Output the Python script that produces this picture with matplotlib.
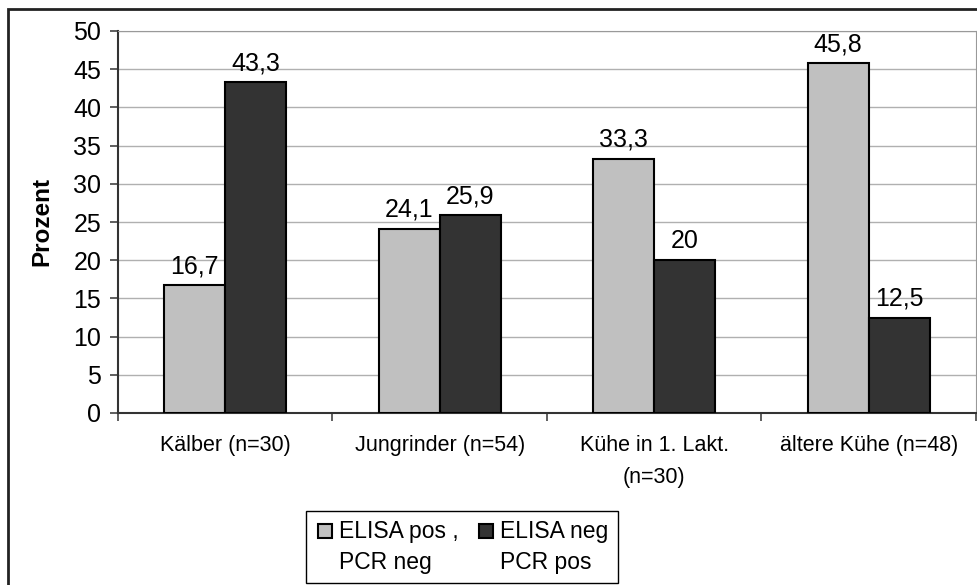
import numpy as np
import matplotlib
matplotlib.use("Agg")
from matplotlib import pyplot
from matplotlib.patches import Rectangle
from matplotlib.legend_handler import HandlerPatch

categories = ['Kälber (n=30)', 'Jungrinder (n=54)', 'Kühe in 1. Lakt.\n(n=30)', 'ältere Kühe (n=48)']
elisa_pos = [16.7, 24.1, 33.3, 45.8]
elisa_neg = [43.3, 25.9, 20.0, 12.5]
series_labels = ['ELISA pos ,\nPCR neg', 'ELISA neg\nPCR pos']
yticks = [0, 5, 10, 15, 20, 25, 30, 35, 40, 45, 50]


def fmt(v):
    s = ('%.1f' % v).rstrip('0').rstrip('.')
    return s.replace('.', ',')


# legend square sitting next to the first line of a two-line label
def top_square(legend, orig_handle, xdescent, ydescent, width, height, fontsize):
    return Rectangle((-xdescent + 2, -ydescent + 0.75 * fontsize), width, height)


pyplot.rcParams['font.family'] = 'Liberation Sans'

fig = pyplot.figure(figsize=(9.78, 5.85), dpi=100)
ax = fig.add_axes([118 / 978, 1 - 413 / 585, (976 - 118) / 978, (413 - 31) / 585])

x = np.arange(len(categories))
w = 0.285
b1 = ax.bar(x - w / 2, elisa_pos, w, color='#c0c0c0', edgecolor='black', linewidth=1.5, zorder=3)
b2 = ax.bar(x + w / 2, elisa_neg, w, color='#333333', edgecolor='black', linewidth=1.5, zorder=3)

for bars, vals in ((b1, elisa_pos), (b2, elisa_neg)):
    for r, v in zip(bars, vals):
        ax.annotate(fmt(v), (r.get_x() + r.get_width() / 2, v), xytext=(0, 5),
                    textcoords='offset points', ha='center', va='bottom', fontsize=18)

ax.set_xlim(-0.5, len(categories) - 0.5)
ax.set_ylim(0, 50)
ax.set_yticks(yticks)
ax.tick_params(axis='y', labelsize=18, length=6, width=1.2, color='#444444', pad=6)
ax.yaxis.grid(True, color='#b0b0b0', linewidth=1)
ax.set_axisbelow(True)

ax.set_xticks(x)
ax.set_xticklabels(categories, fontsize=15.5, linespacing=1.65)
ax.tick_params(axis='x', which='major', length=0, pad=16)
ax.set_xticks(np.arange(len(categories) + 1) - 0.5, minor=True)
ax.tick_params(axis='x', which='minor', length=6, width=1.2, color='#444444')

ax.spines['left'].set_color('#333333')
ax.spines['left'].set_linewidth(1.5)
ax.spines['bottom'].set_color('#333333')
ax.spines['bottom'].set_linewidth(1.5)
ax.spines['top'].set_color('#999999')
ax.spines['right'].set_color('#999999')

ax.set_ylabel('Prozent', fontsize=17.5, fontweight='bold')
ax.yaxis.set_label_coords(-0.075, 0.5)

fig.patches.append(Rectangle((8 / 978, -0.1), 1.2, 1 - 9 / 585 + 0.1, transform=fig.transFigure,
                             fill=False, edgecolor='#222222', linewidth=2))

leg = fig.legend(handles=[b1[0], b2[0]], labels=series_labels, loc='upper left',
                 bbox_to_anchor=(306 / 978, 1 - 511 / 585),
                 ncol=2, fontsize=16.5, frameon=True, fancybox=False, framealpha=1,
                 edgecolor='black', handlelength=0.6, handleheight=0.6, handletextpad=0.45,
                 columnspacing=0.75, borderpad=0.4, labelspacing=0.2, borderaxespad=0,
                 handler_map={Rectangle: HandlerPatch(patch_func=top_square)})
leg.get_frame().set_linewidth(1)
for t in leg.get_texts():
    t.set_linespacing(1.45)

fig.savefig('out.png', dpi=100)
